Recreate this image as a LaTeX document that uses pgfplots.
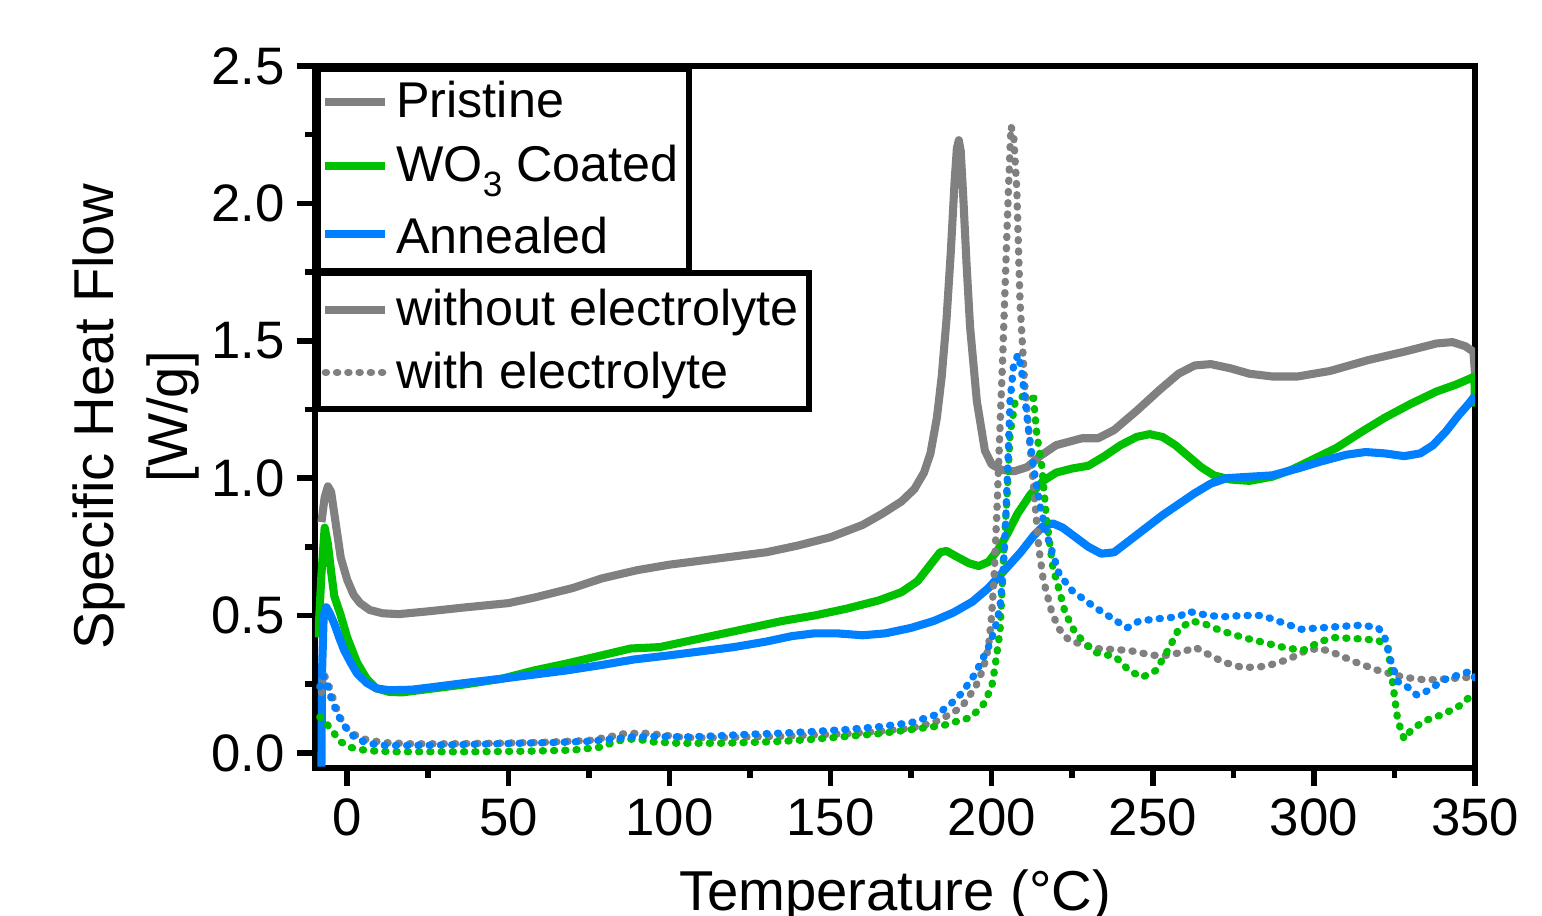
\documentclass[border=0pt]{standalone}
\usepackage{fontspec}
\setmainfont{Liberation Sans}
\usepackage{pgfplots}
\pgfplotsset{compat=1.18}
\definecolor{cgray}{HTML}{808080}
\definecolor{cgreen}{HTML}{00C000}
\definecolor{cblue}{HTML}{0080FF}

\pgfplotsset{
  dsc/.style={
    width=11.6cm, height=7.02cm, scale only axis,
    xmin=-10, xmax=350, ymin=-0.055, ymax=2.5,
    /pgf/number format/assume math mode=true,
    xtick={0,50,100,150,200,250,300,350},
    ytick={0,0.5,1,1.5,2,2.5},
    minor x tick num=1, minor y tick num=1,
    tick align=outside, xtick pos=bottom, ytick pos=left,
    major tick length=0.18cm, minor tick length=0.1cm,
    every tick/.style={black, line width=1.6pt},
    axis line style={line width=1.7pt},
    ticklabel style={font=\fontsize{15}{18}\selectfont},
    yticklabel style={/pgf/number format/.cd, fixed, fixed zerofill, precision=1},
    label style={font=\fontsize{16}{21}\selectfont},
    legend cell align=left,
  },
  leg/.style={draw=black, line width=1.6pt, fill=white, inner xsep=1pt,
    font=\fontsize{14.3}{17}\selectfont},
  sol/.style={line width=2.3pt, line join=round},
  dot/.style={line width=2.1pt, line cap=round, dash pattern=on 0.3pt off 2.9pt},
}

\begin{document}
\begin{tikzpicture}[font=\fontsize{14.3}{17}\selectfont]
\begin{axis}[dsc, name=ax,
  xlabel={Temperature (°C)},
  xlabel style={yshift=-0.1cm},
  ylabel={Specific Heat Flow\\{[W/g]}},
  ylabel style={align=center, yshift=-0.12cm},
  legend style={leg, inner ysep=1.5pt, row sep=2.4pt, at={(0,1)}, anchor=north west},
]
% without electrolyte (solid)
\addplot[sol, cgray] coordinates {
(-8,0.84) (-7,0.93) (-6,0.97) (-5,0.95) (-4,0.87) (-3,0.79) (-2,0.71) (0,0.63)
(2,0.575) (4,0.545) (7,0.52) (11,0.508) (16,0.505) (25,0.515) (37,0.53) (50,0.545)
(58,0.565) (70,0.60) (79,0.635) (90,0.665) (100,0.685) (110,0.70) (120,0.715)
(130,0.73) (140,0.755) (150,0.785) (160,0.83) (166,0.87) (172,0.915) (176,0.96)
(179,1.02) (181,1.09) (183,1.22) (184.5,1.37) (186,1.58) (187.3,1.82) (188.5,2.08)
(189.2,2.2) (189.8,2.23) (190.4,2.19) (191.2,2.02) (192.2,1.78) (193.3,1.55)
(195.4,1.28) (197.9,1.10) (200,1.05) (203,1.03) (207,1.025) (211,1.04) (215,1.08)
(220,1.12) (228,1.145) (233,1.145) (238,1.175)
(245,1.245) (252,1.32) (258,1.38) (263,1.41) (268,1.415) (274,1.40) (280,1.38)
(287,1.37) (295,1.37) (305,1.39) (317,1.43) (328,1.46) (338,1.49) (343,1.495)
(347,1.48) (349.5,1.46) (350,1.38)
};
\addlegendentry{Pristine}
\addplot[sol, cgreen] coordinates {
(-9,0.42) (-8,0.65) (-7,0.82) (-6,0.76) (-5,0.66) (-4,0.57) (-2,0.50) (0,0.42)
(3,0.33) (6,0.27) (9,0.235) (13,0.222) (17,0.22) (25,0.232) (37,0.25) (48,0.27)
(58,0.30) (68,0.325) (79,0.355) (88,0.38) (97,0.385) (105,0.405) (115,0.43)
(125,0.455) (135,0.48) (145,0.50) (155,0.525) (165,0.555) (172,0.585) (177,0.625)
(181,0.685) (184,0.73) (186,0.735) (189,0.715) (193,0.69) (196,0.68) (199,0.695)
(202,0.74) (205,0.80) (208,0.87) (212,0.94) (216,0.99) (220,1.02) (225,1.035)
(230,1.045) (235,1.08) (240,1.12) (245,1.15) (249,1.16) (253,1.15) (257,1.12)
(261,1.08) (265,1.04) (269,1.01) (274,0.995) (280,0.99) (287,1.005) (293,1.03)
(300,1.07) (307,1.11) (315,1.17) (322,1.22) (330,1.27) (338,1.315) (344,1.34)
(348,1.36) (349.8,1.37) (350,1.26)
};
\addlegendentry{WO\raisebox{-4.3pt}{\fontsize{10}{10}\selectfont 3} Coated}
\addplot[sol, cblue] coordinates {
(-8,-0.05) (-7.8,0.3) (-7.3,0.50) (-6.5,0.53) (-5.5,0.51) (-4,0.47) (-2.5,0.42)
(-1,0.375) (1,0.33) (3,0.29) (6,0.255) (9,0.235) (13,0.228) (20,0.23) (27,0.24)
(37,0.255) (48,0.27) (58,0.285) (68,0.30) (79,0.32) (89,0.34) (100,0.355)
(110,0.37) (120,0.385) (130,0.405) (138,0.425) (145,0.435) (152,0.435)
(160,0.428) (167,0.435) (175,0.455) (182,0.48) (188,0.51) (194,0.55) (199,0.60)
(204,0.665) (209,0.73) (213,0.79) (216,0.825) (219,0.835) (222,0.82) (226,0.785)
(230,0.75) (234,0.725) (238,0.73) (243,0.775) (248,0.82) (253,0.865) (258,0.905)
(263,0.945) (268,0.98) (273,1.00) (280,1.005) (287,1.01) (295,1.035) (302,1.06)
(310,1.085) (316,1.095) (322,1.09) (328,1.08) (333,1.09) (337,1.12) (341,1.17)
(345,1.23) (348,1.27) (350,1.30)
};
\addlegendentry{\rule{0pt}{12.5pt}Annealed}
% with electrolyte (dotted)
\addplot[dot, cgray, forget plot] coordinates {
(-8,0.22) (-7.5,0.29) (-6.5,0.27) (-5,0.22) (-3,0.15) (-1,0.10) (1,0.075)
(4,0.055) (7,0.045) (12,0.037) (20,0.033) (30,0.033) (45,0.035) (60,0.038)
(75,0.045) (82,0.06) (86,0.07) (92,0.072) (98,0.065) (105,0.055) (115,0.055)
(125,0.058) (135,0.06) (145,0.065) (155,0.07) (165,0.078) (175,0.09) (182,0.11)
(187,0.14) (190.7,0.167) (195,0.24) (197.5,0.31) (199,0.385) (200,0.5)
(200.7,0.63) (201.6,0.87) (202.5,1.16) (203.3,1.4) (204,1.64) (205.2,2.05)
(206,2.28) (206.8,2.25) (207.8,2.05) (208.8,1.64) (210.2,1.35) (211.6,1.16)
(213.5,0.9) (214.6,0.75) (216,0.63) (218.7,0.51) (221,0.45) (224,0.41)
(232,0.38) (242.6,0.373) (250,0.355) (255,0.355) (260,0.37)
(263,0.385) (267,0.36) (272,0.33) (278,0.31) (285,0.315) (292,0.34) (298,0.375)
(302,0.38) (307,0.36) (313,0.33) (320,0.30) (328,0.275) (335,0.265) (342,0.27)
(348,0.275) (350,0.27)
};
\addplot[dot, cgreen, forget plot] coordinates {
(-8.5,0.13) (-7.5,0.125) (-6,0.10) (-4,0.07) (-2,0.04) (1,0.02) (4,0.012)
(8,0.007) (15,0.004) (25,0.004) (40,0.004) (55,0.006) (70,0.01) (78,0.02)
(82,0.035) (86,0.05) (90,0.05) (95,0.04) (103,0.035) (115,0.035) (125,0.038)
(135,0.042) (145,0.05) (155,0.06) (165,0.07) (175,0.085) (185,0.10)
(190.7,0.12) (193,0.127) (197,0.167) (200,0.24) (201,0.31) (202.6,0.445)
(203.8,0.735) (204.7,0.92) (205.7,1.16) (207.3,1.28) (210,1.30) (213,1.29)
(214,1.16) (215.6,1.04) (217,0.855) (219,0.674) (221,0.59) (222.8,0.51)
(226,0.435) (232,0.366) (238.4,0.35) (242.6,0.30) (246.7,0.275) (251,0.30)
(255,0.38) (258,0.45)
(262,0.48) (266,0.47) (271,0.445) (278,0.42) (285,0.40) (292,0.38) (297,0.375)
(302,0.405) (306,0.42) (314,0.415) (320,0.41) (323,0.38) (324.5,0.25)
(326,0.12) (328,0.05) (330,0.08) (334,0.115) (340,0.14) (345,0.17)
(348.5,0.205) (350,0.19)
};
\addplot[dot, cblue, forget plot] coordinates {
(-8.5,0.24) (-7.5,0.28) (-6.5,0.26) (-5,0.20) (-3,0.14) (-1,0.10) (2,0.06)
(6,0.035) (12,0.027) (20,0.027) (35,0.03) (50,0.034) (65,0.038) (75,0.042)
(82,0.05) (88,0.058) (95,0.06) (105,0.058) (115,0.062) (125,0.068) (135,0.072)
(145,0.078) (155,0.085) (165,0.095) (175,0.11) (183,0.14) (187,0.175)
(190.7,0.217) (195,0.29) (199,0.385) (201,0.45) (202.6,0.53) (203.5,0.65)
(204.2,0.8) (205,1.04) (205.7,1.28) (206.8,1.41) (208.2,1.45) (209.2,1.40)
(210.4,1.28) (211.7,1.15) (213,1.04) (215,0.90) (217,0.80) (218,0.76)
(221,0.65) (225,0.59) (232,0.53) (237.4,0.49) (242,0.455) (245.8,0.48)
(253,0.49) (258,0.495) (261,0.515)
(265,0.505) (271,0.495) (278,0.5) (284,0.50) (290,0.475) (296,0.45) (302,0.455)
(308,0.46) (315,0.465) (320,0.455) (322,0.42) (324,0.33) (326,0.26) (329,0.24)
(332,0.21) (336,0.23) (340,0.265) (344,0.28) (348,0.295) (349.5,0.29) (350,0.27)
};
\end{axis}
% second legend box
\begin{axis}[dsc, hide axis,
  legend style={leg, inner ysep=2.5pt, row sep=2pt, at={(0,0.709)}, anchor=north west},
]
\addplot[draw=none, forget plot] coordinates {(0,0)};
\addlegendimage{sol, cgray}
\addlegendentry{without electrolyte}
\addlegendimage{dot, cgray}
\addlegendentry{with electrolyte}
\end{axis}
\pgfresetboundingbox
\path[use as bounding box] ([shift={(-3.15cm,-1.48cm)}]ax.south west)
  rectangle ([shift={(12.27cm,7.68cm)}]ax.south west);
\end{tikzpicture}
\end{document}
